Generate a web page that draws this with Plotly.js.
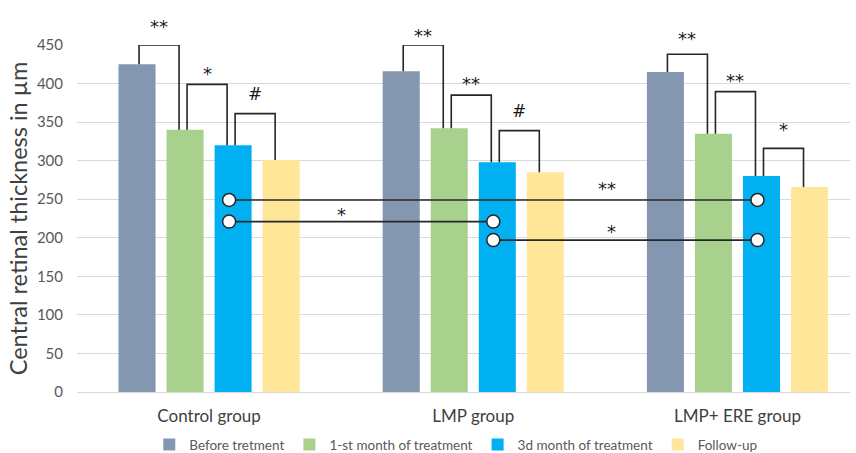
<!DOCTYPE html>
<html>
<head>
<meta charset="utf-8">
<script src="https://cdn.plot.ly/plotly-3.0.1.min.js"></script>
<style>
  html, body { margin: 0; padding: 0; background: #fff; }
  #chart { width: 856px; height: 453px; }
</style>
</head>
<body>
<div id="chart"></div>
<script>
// Central retinal thickness (µm) per group and visit
const groups = ['Control group', 'LMP group', 'LMP+ ERE group'];
const seriesNames = ['Before tretment', '1-st month of treatment', '3d month of treatment', 'Follow-up'];
const beforeTreatment = [425, 416, 415];
const month1 = [340, 342, 335];
const month3 = [320, 298, 280];
const followUp = [301, 285, 266];

// Within-group brackets: bar k vs bar k+1
const bracketTops = [[450, 399, 361], [450, 385, 339], [438, 389.5, 316]];
const bracketMarks = [['**', '*', '#'], ['**', '**', '#'], ['**', '**', '*']];
const bracketMarkLevels = [[480, 419, 386], [469, 406, 365], [465, 410, 347.5]];

// Between-group comparisons of the 3rd-month values
const compFrom = [0, 0, 1];
const compTo = [2, 1, 2];
const compLevels = [249, 221, 197];
const compMarks = ['**', '*', '*'];
const compMarkX = [1.508, 0.503, 1.522];
const compMarkLevels = [271, 237, 214];

const colors = ['#8497B0', '#A9D18E', '#00B0F0', '#FFE699'];
const series = [beforeTreatment, month1, month3, followUp];
const xIdx = groups.map((_, i) => i);

const Y_MAX = 450;
const BARGAP = 0.2727;
const GROUPGAP = 0.229;
const slot = (1 - BARGAP) / 4;
const PX = 1 / 264;         // one pixel along x, in category units
const barCenter = (g, k) => g + (k - 1.5) * slot;

const traces = series.map((vals, k) => ({
  type: 'bar',
  name: seriesNames[k],
  x: xIdx,
  y: vals,
  marker: { color: colors[k] },
  hoverinfo: 'y'
}));

// significance marks are annotations: y given as a fraction of the axis height
// so marks above the top gridline still show
const annotations = [];
const addMark = (x, level, m) => annotations.push({
  x: x, xref: 'x', y: level / Y_MAX, yref: 'paper',
  text: m, showarrow: false, xanchor: 'center', yanchor: 'middle',
  yshift: m === '#' ? 0 : -5,  // asterisks sit high in their line box
  font: { family: 'DejaVu Sans, sans-serif', size: m === '#' ? 17 : 18, color: '#1a1a1a' }
});

// bracket lines
const bx = [], by = [];
groups.forEach((_, g) => {
  for (let k = 0; k < 3; k++) {
    const xl = barCenter(g, k) + 2 * PX;
    const xr = barCenter(g, k + 1) - 6 * PX;
    const top = bracketTops[g][k];
    bx.push(xl, xl, xr, xr, null);
    by.push(series[k][g], top, top, series[k + 1][g], null);
    addMark((xl + xr) / 2, bracketMarkLevels[g][k], bracketMarks[g][k]);
  }
});
traces.push({
  type: 'scatter', mode: 'lines', x: bx, y: by,
  line: { color: '#262626', width: 1.6 },
  cliponaxis: false, showlegend: false, hoverinfo: 'skip'
});

// comparison lines with circle ends
const cx = [], cy = [], mx = [], my = [];
compLevels.forEach((lvl, i) => {
  const x1 = barCenter(compFrom[i], 2) - 4 * PX;
  const x2 = barCenter(compTo[i], 2) - 4 * PX;
  cx.push(x1, x2, null);
  cy.push(lvl, lvl, null);
  mx.push(x1, x2);
  my.push(lvl, lvl);
  addMark(compMarkX[i], compMarkLevels[i], compMarks[i]);
});
traces.push({
  type: 'scatter', mode: 'lines', x: cx, y: cy,
  line: { color: '#262626', width: 1.6 },
  showlegend: false, hoverinfo: 'skip'
});
traces.push({
  type: 'scatter', mode: 'markers', x: mx, y: my,
  marker: { symbol: 'circle', size: 13, color: '#ffffff', line: { color: '#262626', width: 1.5 } },
  showlegend: false, hoverinfo: 'skip'
});

const layout = {
  width: 856, height: 453,
  margin: { l: 77, r: 6, t: 45, b: 61, autoexpand: false },
  paper_bgcolor: '#ffffff', plot_bgcolor: '#ffffff',
  barmode: 'group', bargap: BARGAP, bargroupgap: GROUPGAP,
  font: { family: 'Lato, sans-serif', color: '#595959' },
  xaxis: {
    range: [-0.5, 2.426],
    tickvals: xIdx, ticktext: groups,
    showgrid: false, zeroline: false, showline: false, ticks: '',
    tickfont: { size: 17, color: '#404040' },
    ticklabelstandoff: 12,
    automargin: false,
    fixedrange: true
  },
  yaxis: {
    range: [0, Y_MAX], dtick: 50,
    showgrid: true, gridcolor: '#d9d9d9', gridwidth: 1,
    zeroline: true, zerolinecolor: '#d9d9d9', zerolinewidth: 1,
    showline: false, ticks: '',
    tickfont: { size: 15, color: '#595959' },
    ticklabelstandoff: 13,
    automargin: false,
    title: { text: 'Central retinal thickness in µm', font: { size: 23.5, color: '#404040' }, standoff: 2 },
    fixedrange: true
  },
  legend: {
    orientation: 'h', x: 0.49, xanchor: 'center', y: -0.152, yanchor: 'middle',
    font: { size: 13.5, color: '#595959' }, itemwidth: 30, tracegroupgap: 0
  },
  annotations: annotations,
  showlegend: true
};

Plotly.newPlot('chart', traces, layout, { displayModeBar: false, staticPlot: true });
</script>
</body>
</html>
